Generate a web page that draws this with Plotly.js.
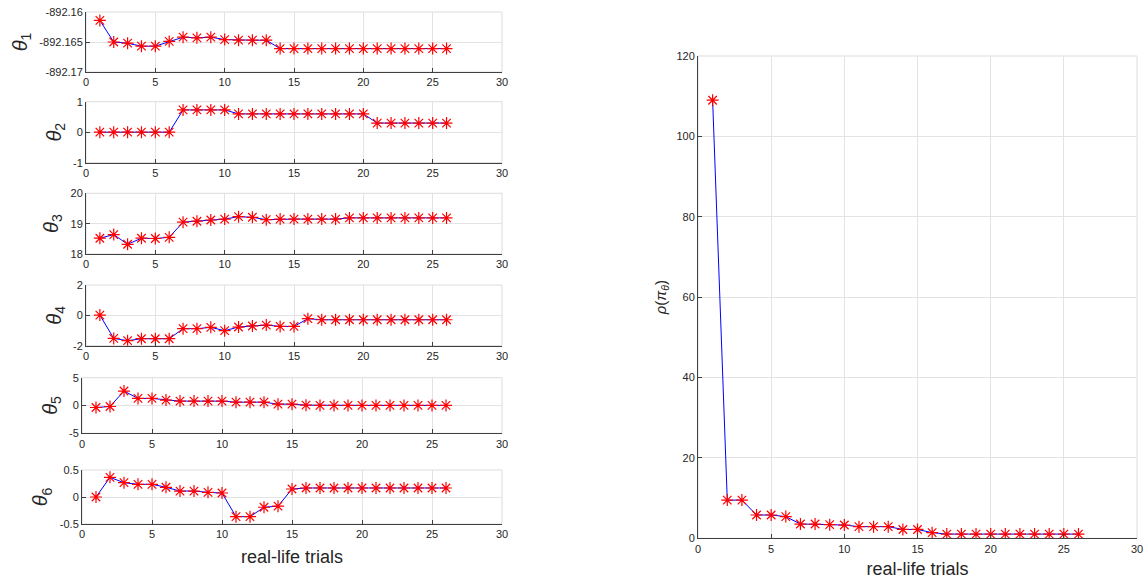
<!DOCTYPE html>
<html>
<head>
<meta charset="utf-8">
<script src="https://cdn.plot.ly/plotly-3.0.1.min.js"></script>
<style>html,body{margin:0;padding:0;background:#fff;}#chart{width:1147px;height:583px;}</style>
</head>
<body>
<div id="chart"></div>
<script>
const trials = [1,2,3,4,5,6,7,8,9,10,11,12,13,14,15,16,17,18,19,20,21,22,23,24,25,26];

const theta1 = [-892.1614,-892.1650,-892.1652,-892.1657,-892.1657,-892.1649,-892.1642,-892.1643,-892.1642,-892.1646,-892.1647,-892.1647,-892.1647,-892.1661,-892.1661,-892.1661,-892.1661,-892.1661,-892.1661,-892.1661,-892.1661,-892.1661,-892.1661,-892.1661,-892.1661,-892.1661];
const theta2 = [0,0,0,0,0,0,0.73,0.73,0.73,0.73,0.60,0.60,0.60,0.60,0.60,0.60,0.60,0.60,0.60,0.60,0.30,0.30,0.30,0.30,0.30,0.30];
const theta3 = [18.52,18.64,18.32,18.52,18.51,18.55,19.05,19.08,19.12,19.15,19.23,19.21,19.13,19.15,19.15,19.15,19.15,19.15,19.19,19.19,19.19,19.19,19.19,19.19,19.19,19.19];
const theta4 = [0.02,-1.52,-1.67,-1.54,-1.54,-1.54,-0.88,-0.88,-0.79,-1.01,-0.77,-0.70,-0.64,-0.73,-0.73,-0.22,-0.29,-0.29,-0.29,-0.29,-0.29,-0.29,-0.29,-0.29,-0.29,-0.29];
const theta5 = [-0.36,-0.18,2.60,1.27,1.27,0.97,0.79,0.79,0.79,0.79,0.60,0.60,0.60,0.24,0.24,0.06,0.02,0.02,0.02,0.02,0.02,0.02,0.02,0.02,0.02,0.02];
const theta6 = [0.0,0.364,0.265,0.235,0.235,0.18,0.11,0.11,0.086,0.074,-0.364,-0.364,-0.19,-0.17,0.148,0.167,0.167,0.167,0.167,0.167,0.167,0.167,0.167,0.167,0.167,0.167];
const rho = [109,9.5,9.5,5.8,5.8,5.4,3.55,3.55,3.4,3.3,2.9,2.9,2.9,2.2,2.2,1.4,1.05,1.05,1.05,1.05,1.05,1.05,1.05,1.05,1.05,1.05];

const xTickVals = [0,5,10,15,20,25,30];
const yTickVals = [
  [-892.17,-892.165,-892.16],
  [-1,0,1],
  [18,19,20],
  [-2,0,2],
  [-5,0,5],
  [-0.5,0,0.5]
];
const yTickText = [
  ['-892.17','-892.165','-892.16'],
  ['-1','0','1'],
  ['18','19','20'],
  ['-2','0','2'],
  ['-5','0','5'],
  ['-0.5','0','0.5']
];
const rhoTickVals = [0,20,40,60,80,100,120];
const yLabels = ['<i>θ</i><sub>1</sub>','<i>θ</i><sub>2</sub>','<i>θ</i><sub>3</sub>','<i>θ</i><sub>4</sub>','<i>θ</i><sub>5</sub>','<i>θ</i><sub>6</sub>'];
const series = [theta1,theta2,theta3,theta4,theta5,theta6];

const W = 1147, H = 583;
const leftPx = [86,86,86,86,82,82];
const topPx = [12,101.7,193.3,285,377.7,470];
const botPx = [72,162.7,254,345.7,433.3,524];

const FONT = 'Liberation Sans, Arial, Helvetica, sans-serif';
const axisCommon = {
  showline: true, linecolor: '#404040', linewidth: 1,
  ticks: 'inside', ticklen: 4, tickcolor: '#404040',
  showgrid: true, gridcolor: '#e3e3e3', gridwidth: 1,
  zeroline: false,
  tickfont: {family: FONT, size: 11, color: '#262626'}
};
const markerStyle = {symbol: 'asterisk-open', size: 10, color: '#ff0000', line: {color: '#ff0000', width: 1.2}};

const data = [];
const layout = {
  width: W, height: H,
  margin: {l:0, r:0, t:0, b:0},
  paper_bgcolor: '#ffffff', plot_bgcolor: '#ffffff',
  showlegend: false,
  font: {family: FONT, color: '#262626'},
  shapes: []
};

for (let i = 0; i < 6; i++) {
  const n = i + 1;
  const xa = n === 1 ? 'x' : 'x' + n;
  const ya = n === 1 ? 'y' : 'y' + n;
  data.push({
    x: trials, y: series[i], xaxis: xa, yaxis: ya,
    type: 'scatter', mode: 'lines+markers',
    line: {color: '#0000ff', width: 1},
    marker: markerStyle
  });
  const xkey = n === 1 ? 'xaxis' : 'xaxis' + n;
  const ykey = n === 1 ? 'yaxis' : 'yaxis' + n;
  layout[xkey] = Object.assign({}, axisCommon, {
    domain: [leftPx[i]/W, 502/W], anchor: ya,
    range: [0,30], tickmode: 'array', tickvals: xTickVals
  });
  if (i === 5) {
    layout[xkey].title = {text: 'real-life trials', font: {family: FONT, size: 18, color: '#262626'}, standoff: 11};
  }
  layout[ykey] = Object.assign({}, axisCommon, {
    domain: [1 - botPx[i]/H, 1 - topPx[i]/H], anchor: xa,
    range: [yTickVals[i][0], yTickVals[i][2]],
    tickmode: 'array', tickvals: yTickVals[i], ticktext: yTickText[i],
    title: {text: yLabels[i], font: {family: FONT, size: 20, color: '#262626'}, standoff: 6}
  });
  layout.shapes.push({type: 'rect', xref: xa + ' domain', yref: ya + ' domain', x0: 0, x1: 1, y0: 0, y1: 1, line: {color: '#dcdcdc', width: 1}, layer: 'below'});
}

data.push({
  x: trials, y: rho, xaxis: 'x7', yaxis: 'y7',
  type: 'scatter', mode: 'lines+markers',
  line: {color: '#0000ff', width: 1},
  marker: markerStyle
});
layout.xaxis7 = Object.assign({}, axisCommon, {
  domain: [698/W, 1137/W], anchor: 'y7',
  range: [0,30], tickmode: 'array', tickvals: xTickVals,
  title: {text: 'real-life trials', font: {family: FONT, size: 18, color: '#262626'}, standoff: 8}
});
layout.yaxis7 = Object.assign({}, axisCommon, {
  domain: [1 - 538.3/H, 1 - 56/H], anchor: 'x7',
  range: [0,120], tickmode: 'array', tickvals: rhoTickVals,
  title: {text: '<i>ρ</i>(<i>π</i><sub><i>θ</i></sub>)', font: {family: FONT, size: 15, color: '#262626'}, standoff: 6}
});
layout.shapes.push({type: 'rect', xref: 'x7 domain', yref: 'y7 domain', x0: 0, x1: 1, y0: 0, y1: 1, line: {color: '#dcdcdc', width: 1}, layer: 'below'});

Plotly.newPlot('chart', data, layout, {staticPlot: true, displayModeBar: false});
</script>
</body>
</html>
